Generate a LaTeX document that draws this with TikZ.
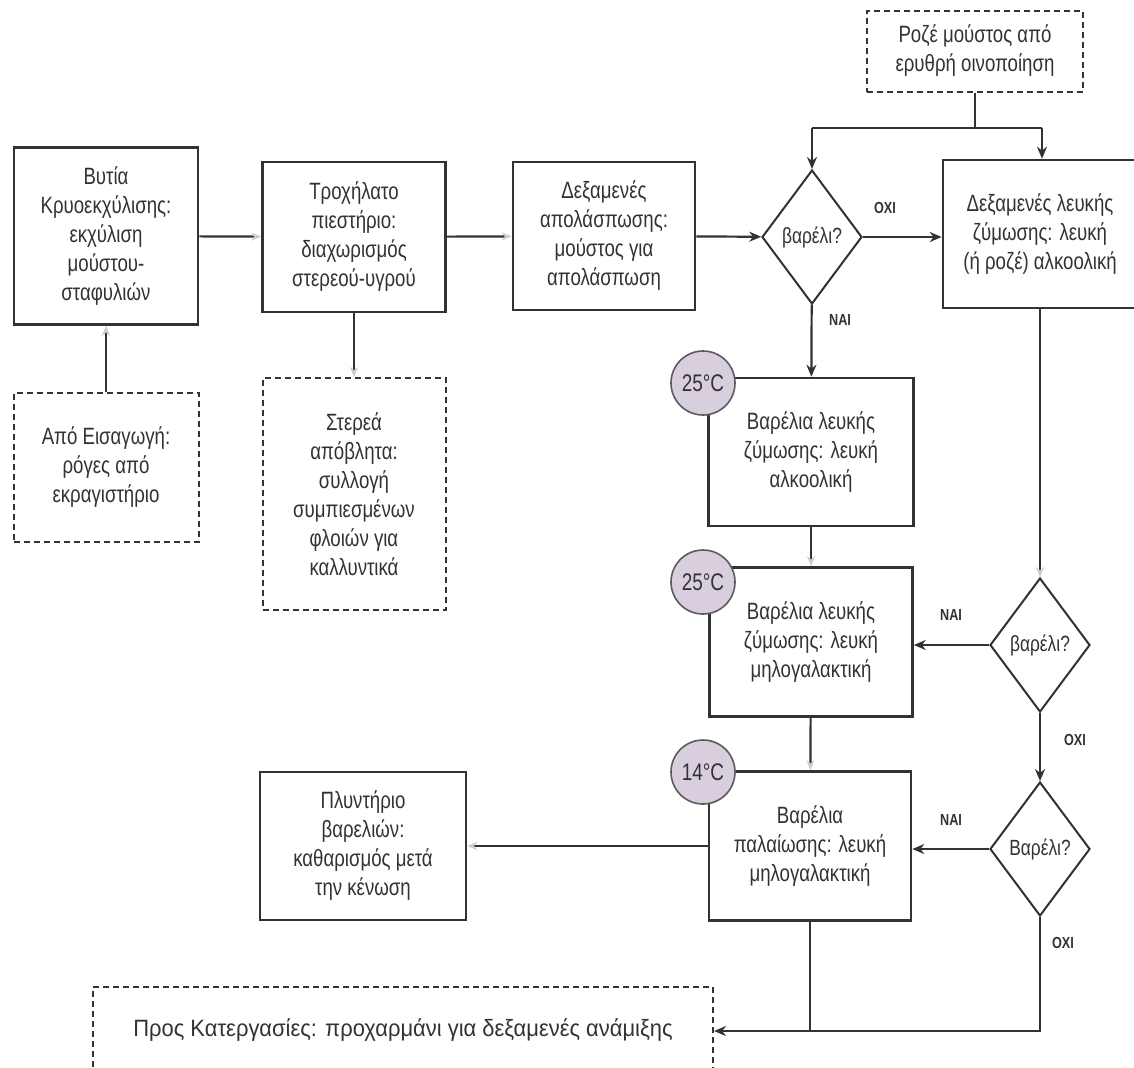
\documentclass[tikz,border=0pt]{standalone}
\usepackage{fontspec}
\setmainfont[FakeStretch=0.79]{Liberation Sans}
\newfontfamily\widefont[FakeStretch=0.93]{Liberation Sans}
\usetikzlibrary{shapes.geometric,arrows.meta}
\definecolor{linegray}{RGB}{50,50,50}
\definecolor{tempfill}{RGB}{216,206,222}
\begin{document}
\begin{tikzpicture}[x=0.5pt, y=-0.5pt,
    every node/.style={text=linegray},
    box/.style={rectangle, draw=linegray, line width=1.3pt, align=center, font=\fontsize{11.8}{14.5}\selectfont, inner sep=2pt},
    dbox/.style={box, dash pattern=on 3pt off 2pt, line width=1pt},
    ask/.style={diamond, draw=linegray, line width=1pt, aspect=0.75, minimum width=50pt, minimum height=67pt, inner sep=0pt, font=\fontsize{11}{12}\selectfont},
    temp/.style={circle, draw=linegray!80, line width=0.8pt, fill=tempfill, minimum size=32pt, inner sep=0pt, font=\fontsize{12}{12}\selectfont},
    yesno/.style={font=\fontsize{8}{9}\selectfont\bfseries},
    arrow/.style={-{Stealth[length=6pt,width=5pt]}, draw=linegray, line width=1.1pt},
    faded/.style={-{Stealth[length=5pt,width=4pt,color=gray!40]}, draw=linegray, line width=1.1pt},
    link/.style={draw=linegray, line width=1.1pt}
]
\useasboundingbox (0,0) rectangle (1134,1067);

% Input and press
\node[box, minimum width=92pt, minimum height=88.5pt] (tank) at (106,236) {Βυτία\\Κρυοεκχύλισης:\\εκχύλιση\\μούστου-\\σταφυλιών};
\node[dbox, minimum width=92.5pt, minimum height=74.5pt] (import) at (106,467) {Από Εισαγωγή:\\ρόγες από\\εκραγιστήριο};
\node[box, minimum width=91.5pt, minimum height=75pt] (press) at (354,237) {Τροχήλατο\\πιεστήριο:\\διαχωρισμός\\στερεού-υγρού};
\node[dbox, minimum width=91.5pt, minimum height=116pt] (waste) at (354,494) {Στερεά\\απόβλητα:\\συλλογή\\συμπιεσμένων\\φλοιών για\\καλλυντικά};
\node[box, minimum width=91pt, minimum height=74pt] (settle) at (604,236) {Δεξαμενές\\απολάσπωσης:\\μούστος για\\απολάσπωση};

% Decisions
\node[ask] (q1) at (812,237) {βαρέλι?};
\node[ask] (q2) at (1040,645) {βαρέλι?};
\node[ask] (q3) at (1040,849) {Βαρέλι?};

% Fermentation
\node[dbox, minimum width=108pt, minimum height=40.5pt] (rose) at (975,51) {Ροζέ μούστος από\\ερυθρή οινοποίηση};
\node[box, minimum width=97pt, minimum height=74pt] (vat) at (1040,234) {Δεξαμενές λευκής\\ζύμωσης: λευκή\\(ή ροζέ) αλκοολική};
\node[box, minimum width=102.5pt, minimum height=74pt] (alco) at (811,452) {Βαρέλια λευκής\\ζύμωσης: λευκή\\αλκοολική};
\node[box, minimum width=101.5pt, minimum height=74.5pt] (malo) at (811,642) {Βαρέλια λευκής\\ζύμωσης: λευκή\\μηλογαλακτική};
\node[box, minimum width=101pt, minimum height=74.5pt] (aging) at (810,846) {Βαρέλια\\παλαίωσης: λευκή\\μηλογαλακτική};
\node[box, minimum width=103pt, minimum height=74pt] (washer) at (363,846) {Πλυντήριο\\βαρελιών:\\καθαρισμός μετά\\την κένωση};
\node[dbox, minimum width=310pt, minimum height=43pt, font=\fontsize{11.8}{14.5}\widefont] (blend) at (403,1030) {Προς Κατεργασίες: προχαρμάνι για δεξαμενές ανάμιξης};

% Temperatures
\node[temp] (t1) at (703,383) {25°C};
\node[temp] (t2) at (703,582) {25°C};
\node[temp] (t3) at (703,772) {14°C};

% Junctions
\coordinate (split) at (975,128);
\coordinate (splitL) at (812,128);
\coordinate (splitR) at (1042,128);
\coordinate (low) at (1040,1031);
\coordinate (lowG) at (810,1031);

% Arrows
\draw[faded] (import) -- (tank);
\draw[faded] (tank) -- (press);
\draw[faded] (press) -- (waste);
\draw[faded] (press) -- (settle);
\draw[arrow] (settle) -- (q1);
\draw[link, line width=0.7pt] (rose) -- (split);
\draw[link] (splitL) -- (splitR);
\draw[arrow] (splitL) -- (q1.north);
\draw[arrow] (splitR) -- (splitR |- vat.north);
\draw[arrow] (q1) -- (vat.west |- q1);
\draw[arrow] (q1) -- (alco);
\draw[faded] (alco) -- (malo);
\draw[faded] (malo) -- (aging);
\draw[faded] (vat) -- (q2);
\draw[arrow] (q2) -- (malo.east |- q2);
\draw[arrow] (q2) -- (q3);
\draw[arrow] (q3) -- (aging.east |- q3);
\draw[faded] (aging) -- (washer);
\draw[link] (aging) -- (lowG);
\draw[arrow] (q3.south) -- (low) -- (blend.east |- low);

% Labels
\node[yesno] (n1) at (885,208) {ΟΧΙ};
\node[yesno] (n2) at (840,320) {ΝΑΙ};
\node[yesno] (n3) at (951,615) {ΝΑΙ};
\node[yesno] (n4) at (1075,740) {ΟΧΙ};
\node[yesno] (n5) at (951,820) {ΝΑΙ};
\node[yesno] (n6) at (1063,943) {ΟΧΙ};

\end{tikzpicture}
\end{document}
